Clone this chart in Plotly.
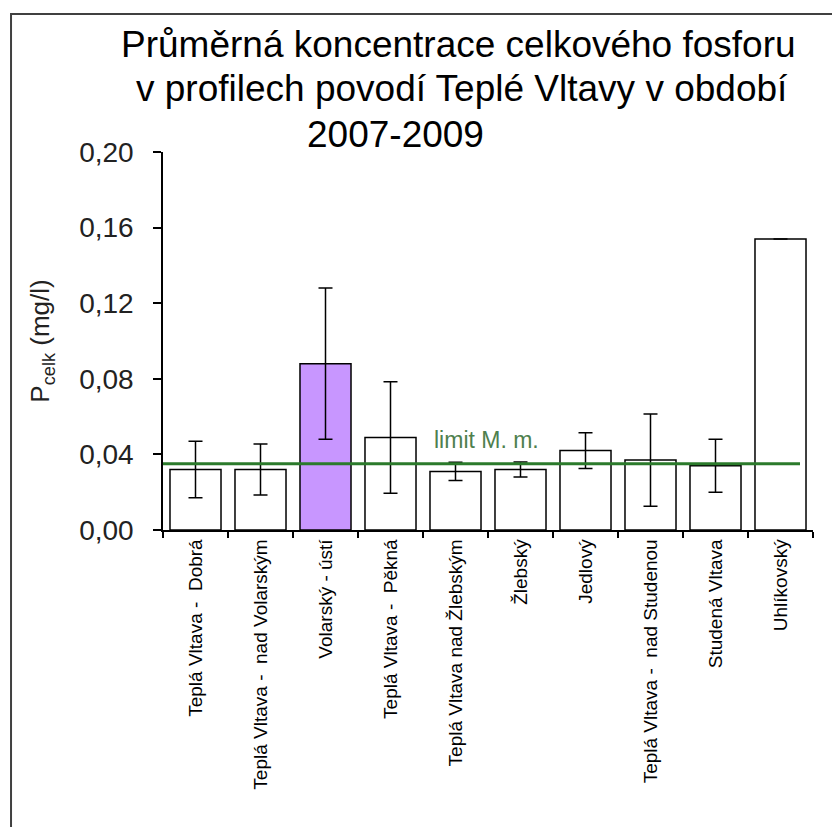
import plotly.graph_objects as go

# ---- data ----
categories = [
    "Teplá Vltava -  Dobrá",
    "Teplá Vltava -  nad Volarským",
    "Volarský - ústí",
    "Teplá Vltava -  Pěkná",
    "Teplá Vltava nad Žlebským",
    "Žlebský",
    "Jedlový",
    "Teplá Vltava -  nad Studenou",
    "Studená Vltava",
    "Uhlíkovský",
]
mean_p = [0.032, 0.032, 0.088, 0.049, 0.031, 0.032, 0.042, 0.037, 0.034, 0.154]
std_p = [0.015, 0.0135, 0.040, 0.0295, 0.0048, 0.004, 0.0095, 0.0244, 0.014, None]
bar_colors = ["white", "white", "#C896FF", "white", "white", "white", "white", "white", "white", "white"]
limit_value = 0.035
limit_label = "limit M. m."
y_ticks = [0.00, 0.04, 0.08, 0.12, 0.16, 0.20]
title_lines = [
    "Průměrná koncentrace celkového fosforu",
    "v profilech povodí Teplé Vltavy v období",
    "2007-2009",
]

FONT = "Liberation Sans, Arial, sans-serif"

fig = go.Figure()
fig.add_trace(go.Bar(
    x=categories,
    y=mean_p,
    marker=dict(color=bar_colors, line=dict(color="black", width=1.5)),
    error_y=dict(type="data", array=std_p, visible=True, color="black",
                 thickness=1.5, width=7),
    showlegend=False,
))

# limit line
fig.add_shape(type="line", xref="x domain", yref="y", x0=0, x1=0.98,
              y0=limit_value, y1=limit_value,
              line=dict(color="#2B7A2B", width=3))
fig.add_annotation(x=4.47, y=0.0476, xref="x", yref="y", text=limit_label,
                   showarrow=False, font=dict(family=FONT, size=23, color="#4E804E"))

# title lines
title_pos = [(0.455, 1.2857), (0.46, 1.1667), (0.358, 1.0476)]
for line, (tx, ty) in zip(title_lines, title_pos):
    fig.add_annotation(x=tx, y=ty, xref="paper", yref="paper", text=line,
                       showarrow=False, xanchor="center", yanchor="middle",
                       font=dict(family=FONT, size=37, color="black"))

# outer frame (partially outside the picture)
fig.add_shape(type="rect", xref="paper", yref="paper",
              x0=-0.2338, x1=1.2, y0=-1.2, y1=1.365,
              line=dict(color="#404040", width=2), fillcolor="rgba(0,0,0,0)")

fig.update_layout(
    width=832, height=819,
    margin=dict(l=155, r=27, t=144, b=297),
    paper_bgcolor="white", plot_bgcolor="white",
    separators=",.",
    bargap=0.215,
    font=dict(family=FONT, color="black"),
)
fig.update_xaxes(
    showline=True, linecolor="black", linewidth=1.5,
    ticks="outside", tickson="boundaries", ticklen=6, tickcolor="black", tickwidth=1.5,
    tickangle=-90, tickfont=dict(family=FONT, size=19, color="black"),
    showgrid=False, zeroline=False, range=[-0.5, 9.5],
)
fig.update_yaxes(
    range=[0, 0.2], tickvals=y_ticks, tickformat=".2f",
    showline=True, linecolor="black", linewidth=1.5,
    ticks="outside", ticklen=8, tickcolor="black", tickwidth=1.5,
    tickfont=dict(family=FONT, size=28, color="#222222"),
    ticklabelstandoff=14,
    showgrid=False, zeroline=False,
    title=dict(text="P<sub>celk</sub> (mg/l)", font=dict(family=FONT, size=26, color="#222222"),
               standoff=22),
)

fig.write_html("out.html")
